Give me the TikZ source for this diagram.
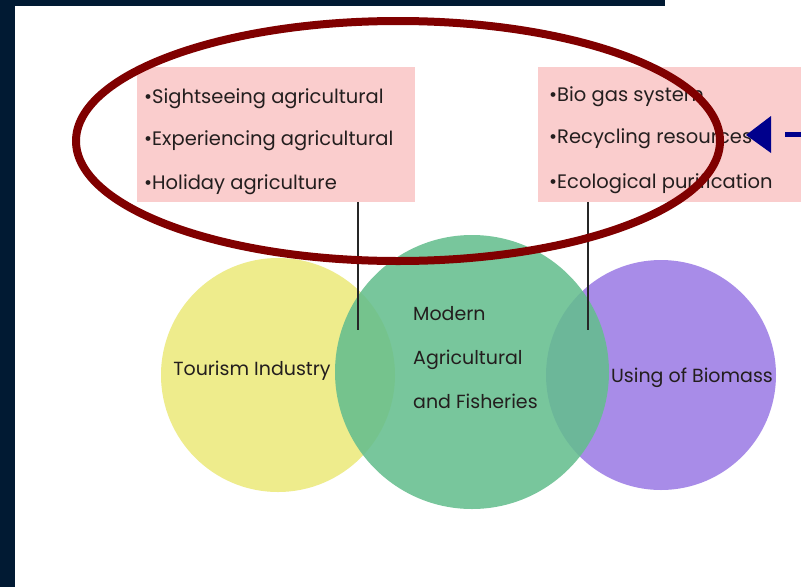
\documentclass[tikz,border=0pt]{standalone}
\usepackage{fontspec}
\setmainfont{Poppins}
\definecolor{navybg}{RGB}{1,26,51}
\definecolor{pinkbox}{RGB}{250,205,205}
\definecolor{cyellow}{RGB}{238,236,140}
\definecolor{cgreen}{RGB}{100,190,142}
\definecolor{cpurple}{RGB}{168,140,232}
\definecolor{ellred}{RGB}{128,0,0}
\definecolor{arrownavy}{RGB}{0,0,140}
\definecolor{txt}{RGB}{35,30,30}
\begin{document}
\begin{tikzpicture}[x=1pt,y=-1pt,
  pinkbg/.style={fill=pinkbox, draw=none},
  itemtxt/.style={anchor=west, inner sep=0pt, text=txt, font=\fontsize{19.5}{22}\selectfont},
  circtxt/.style={inner sep=0pt, text=txt, font=\fontsize{19}{22}\selectfont},
  stem/.style={draw=black!85, line width=1.2pt}
]
\useasboundingbox (0,0) rectangle (801,587);
\fill[white] (0,0) rectangle (801,587);
% frame
\fill[navybg] (0,0) rectangle (15,587);
\fill[navybg] (0,0) rectangle (665,6);
% circles
\fill[cyellow] (278,375) circle [radius=117pt];
\fill[cpurple] (661,375) circle [radius=115pt];
\fill[cgreen, fill opacity=0.87] (472,372) circle [radius=137pt];
% boxes
\node[pinkbg, minimum width=278pt, minimum height=135pt, inner sep=0pt] (lbox) at (276,134.5) {};
\node[pinkbg, minimum width=264pt, minimum height=135pt, inner sep=0pt] (rbox) at (670,134.5) {};
% items
\node[itemtxt] (l1) at (144,99) {\textbullet Sightseeing agricultural};
\node[itemtxt] (l2) at (144,141) {\textbullet Experiencing agricultural};
\node[itemtxt] (l3) at (144,185) {\textbullet Holiday agriculture};
\node[itemtxt] (r1) at (549,97) {\textbullet Bio gas system};
\node[itemtxt] (r2) at (549,139) {\textbullet Recycling resources};
\node[itemtxt] (r3) at (549,184) {\textbullet Ecological purification};
% circle labels
\node[circtxt] (tour) at (252,371) {Tourism Industry};
\node[circtxt, align=left, anchor=west, font=\fontsize{19}{44}\selectfont] (mod) at (413,358) {Modern\\Agricultural\\and Fisheries};
\node[circtxt] (bio) at (692,378) {Using of Biomass};
% stems
\coordinate (ls) at (358,330);
\coordinate (rs) at (588,330);
\draw[stem] (lbox.south -| ls) -- (ls);
\draw[stem] (rbox.south -| rs) -- (rs);
% red ellipse
\draw[ellred, line width=8pt] (398,141) ellipse [x radius=322pt, y radius=120pt];
% blue arrow
\coordinate (tip) at (746,135);
\fill[arrownavy] (tip) -- (771,116) -- (771,153) -- cycle;
\coordinate (a1) at (785,134.5);
\coordinate (a2) at (801,134.5);
\draw[arrownavy, line width=5pt] (a1) -- (a2);
\end{tikzpicture}
\end{document}
